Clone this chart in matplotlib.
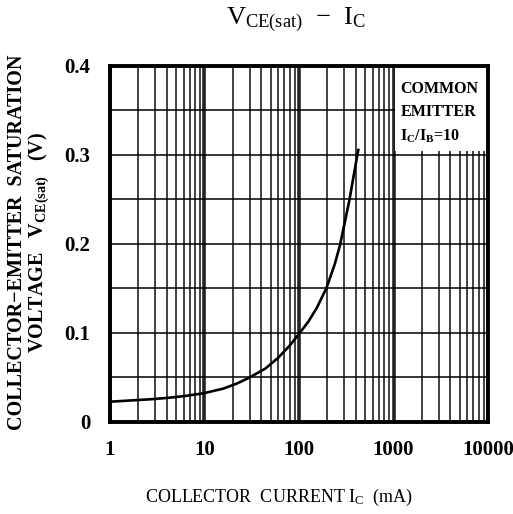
import matplotlib
matplotlib.use('Agg')
import matplotlib.pyplot as plt
from matplotlib.patches import Rectangle
from matplotlib.ticker import FixedLocator, NullFormatter

plt.rcParams['font.family'] = 'Liberation Serif'
plt.rcParams['mathtext.fontset'] = 'custom'
plt.rcParams['mathtext.rm'] = 'Liberation Serif'
plt.rcParams['mathtext.bf'] = 'Liberation Serif:bold'

# curve
ic_ma = [1, 2.65, 4, 6, 9.7, 15.8, 22, 30, 44, 60, 80, 100, 125, 154, 196, 240, 272, 341, 414, 424]
vce_sat = [0.0228, 0.0255, 0.027, 0.0290, 0.0322, 0.0375, 0.0432, 0.050, 0.060, 0.072, 0.086,
           0.099, 0.1125, 0.128, 0.151, 0.178, 0.199, 0.249, 0.300, 0.3056]

x_ticks = [1, 10, 100, 1000, 10000]
x_labels = ['1', '10', '100', '1000', '10000']
y_ticks = [0, 0.1, 0.2, 0.3, 0.4]
y_labels = ['0', '0.1', '0.2', '0.3', '0.4']

fig = plt.figure(figsize=(5.13, 5.14), dpi=100)
ax = fig.add_axes([0.2144, 0.179, 0.7369, 0.6926])

ax.set_xscale('log')
ax.set_xlim(1, 10000)
ax.set_ylim(0, 0.4)
ax.set_axisbelow(True)

ax.set_xticks(x_ticks)
ax.set_xticklabels(x_labels, fontsize=15, fontweight='bold')
ax.xaxis.set_minor_locator(FixedLocator([m * 10 ** d for d in range(4) for m in range(2, 10)]))
ax.xaxis.set_minor_formatter(NullFormatter())
ax.set_yticks(y_ticks)
ax.set_yticklabels(y_labels, fontsize=15, fontweight='bold')
ax.yaxis.set_minor_locator(FixedLocator([0.05, 0.15, 0.25, 0.35]))
ax.tick_params(axis='x', which='both', length=0, pad=13)
ax.tick_params(axis='y', which='both', length=0, pad=14)

ax.grid(True, which='major', axis='x', color='#222222', linewidth=2.6)
ax.grid(True, which='minor', axis='x', color='#333333', linewidth=1.3)
ax.grid(True, which='both', axis='y', color='black', linewidth=1.1)

for s in ax.spines.values():
    s.set_linewidth(2.8)

ax.plot(ic_ma, vce_sat, color='black', linewidth=1.9, zorder=3, solid_joinstyle='round')

# legend box
ax.add_patch(Rectangle((1030, 0.304), 10000, 0.2, facecolor='white', edgecolor='none', zorder=1))
ax.text(0.768, 0.958, 'COMMON\nEMITTER\n$\\mathbf{I_C/I_B}$=10', transform=ax.transAxes,
        ha='left', va='top', fontsize=11.5, fontweight='bold', linespacing=1.6, zorder=4)

fig.text(0.577, 0.961, r'$\mathrm{V_{CE(sat)}}$  $-$  $\mathrm{I_C}$', ha='center', va='center', fontsize=19)
fig.text(0.544, 0.033, r'COLLECTOR  CURRENT $\mathrm{I_C}$  (mA)', ha='center', va='center', fontsize=13)
fig.text(0.033, 0.529, 'COLLECTOR\u2212EMITTER  SATURATION', rotation=90, ha='center', va='center',
         fontsize=14.5, fontweight='bold')
fig.text(0.076, 0.529, r'VOLTAGE   $\mathbf{V_{CE(sat)}}$   (V)', rotation=90, ha='center', va='center',
         fontsize=14.5, fontweight='bold')

fig.savefig('out.png', dpi=100)
